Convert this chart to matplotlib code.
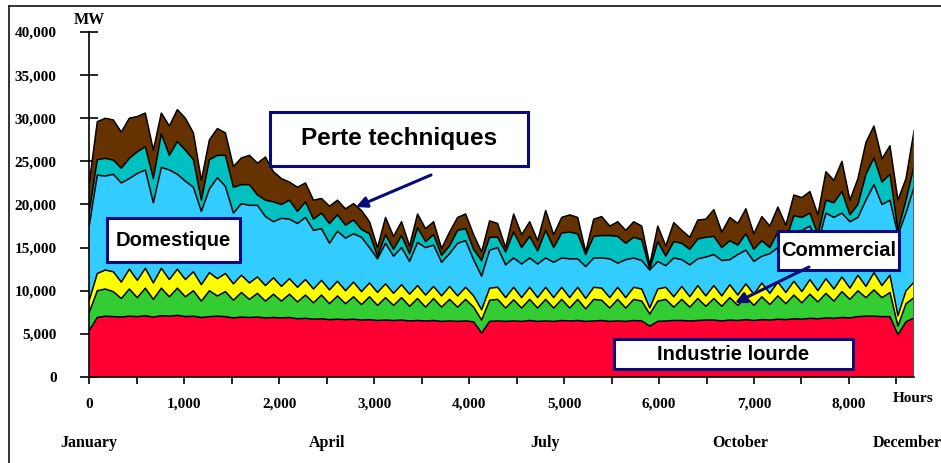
import numpy as np
import matplotlib
matplotlib.use("Agg")
import matplotlib.pyplot as plt
from matplotlib.patches import Rectangle, FancyArrowPatch
from matplotlib.lines import Line2D

# ---------------- data (cumulative stacked load, MW) ----------------
n_points = 104
hour_end = 8685
hours = np.linspace(0, hour_end, n_points)

cum_industrie_lourde = [
    5400, 6900, 7050, 7000, 6950, 7050, 7000, 7100, 6950, 7100,
    7050, 7150, 7000, 7050, 6900, 7000, 7050, 7000, 6850, 6950,
    6900, 6950, 6850, 6900, 6850, 6900, 6750, 6800, 6700, 6750,
    6650, 6700, 6650, 6700, 6600, 6650, 6550, 6600, 6550, 6600,
    6500, 6550, 6500, 6550, 6450, 6500, 6450, 6500, 6400, 5100,
    6450, 6500, 6450, 6500, 6450, 6550, 6450, 6500, 6450, 6550,
    6500, 6550, 6450, 6500, 6550, 6450, 6500, 6450, 6550, 6500,
    5900, 6450, 6500, 6550, 6550, 6500, 6550, 6600, 6600, 6500,
    6600, 6550, 6650, 6550, 6650, 6600, 6700, 6650, 6750, 6700,
    6800, 6750, 6850, 6800, 6900, 6850, 7000, 7050, 7050, 7000,
    7000, 4900, 6400, 6850]

cum_commercial = [
    7500, 10000, 10200, 9900, 9100, 10200, 9200, 10300, 9000, 10300,
    9300, 10300, 9300, 10000, 8800, 10000, 9400, 9900, 8900, 9800,
    9000, 9700, 8800, 9600, 8800, 9600, 8700, 9500, 8600, 9500,
    8500, 9400, 8500, 9300, 8400, 9300, 8300, 9200, 8300, 9200,
    8200, 9100, 8100, 9100, 8100, 9000, 8100, 9000, 8100, 6600,
    8900, 9000, 8000, 8950, 8000, 9000, 8000, 9000, 8000, 9000,
    8000, 9000, 7900, 9000, 8900, 8000, 9000, 8000, 9000, 8800,
    7300, 8800, 9000, 8100, 9000, 8100, 9100, 8200, 9100, 8200,
    9200, 8300, 9300, 8300, 9300, 8400, 9400, 8500, 9500, 8600,
    9600, 8700, 9700, 8800, 9900, 9000, 10000, 9200, 10100, 9200,
    9800, 5900, 8500, 9200]

cum_layer3 = [
    8900, 12000, 12400, 12200, 11000, 12500, 11200, 12600, 10900, 12600,
    11300, 12500, 11300, 12200, 10700, 12100, 11400, 12000, 10800, 11800,
    10900, 11600, 10600, 11500, 10500, 11400, 10400, 11300, 10200, 11200,
    10100, 11100, 10000, 11000, 9900, 10900, 9800, 10800, 9700, 10700,
    9600, 10600, 9500, 10500, 9400, 10500, 9400, 10400, 9400, 7800,
    10300, 10400, 9200, 10400, 9200, 10400, 9200, 10400, 9200, 10400,
    9200, 10400, 9100, 10400, 10300, 9200, 10400, 9200, 10400, 10200,
    8000, 10200, 10400, 9300, 10500, 9300, 10600, 9400, 10600, 9400,
    10700, 9500, 10800, 9600, 10900, 9700, 11000, 9800, 11100, 9900,
    11300, 10000, 11400, 10200, 11600, 10300, 11800, 10500, 12100, 10600,
    11800, 7100, 10000, 11000]

cum_domestique = [
    17600, 23400, 23300, 23500, 22500, 23000, 23600, 24000, 20200, 24300,
    24000, 23500, 22700, 22000, 19200, 21800, 23100, 22100, 19000, 20100,
    19900, 19900, 18600, 18000, 18400, 18300, 17800, 18500, 17000, 17200,
    15500, 16900, 16100, 16600, 16200, 15000, 13700, 15500, 14000, 15000,
    13400, 15600, 15000, 15300, 13300, 14300, 15500, 15800, 13600, 11700,
    14700, 15000, 13000, 13800, 13100, 13800, 13100, 13800, 13300, 13800,
    13700, 13700, 12800, 13800, 13800, 13700, 13200, 13600, 13800, 13500,
    12400, 13400, 12900, 13800, 13600, 13000, 13700, 13900, 14200, 13500,
    13600, 14200, 14700, 13400, 14000, 14300, 15000, 14500, 16800, 17000,
    17500, 15500, 19000, 18500, 19000, 18000, 18500, 20500, 22300, 20000,
    20500, 16500, 19000, 22000]

cum_layer5 = [
    19200, 25200, 25350, 25150, 24200, 25350, 26100, 26700, 23000, 28200,
    25700, 27300, 26300, 25200, 20500, 25200, 25700, 25700, 22000, 22300,
    22300, 21100, 20500, 20300, 20000, 20500, 19200, 20300, 18300, 19000,
    17800, 18800, 17600, 18200, 17100, 16600, 14000, 16500, 14800, 16400,
    14300, 17300, 15700, 16500, 14100, 15200, 17000, 17200, 14800, 13500,
    16200, 16200, 14500, 16800, 15000, 16300, 14600, 17000, 15000, 16700,
    16800, 16600, 14200, 16300, 16400, 16400, 16300, 15500, 16200, 15900,
    12500, 15700, 14000, 15700, 15500, 14800, 16000, 16200, 16300, 15000,
    15800, 15300, 16600, 14800, 15800, 15000, 16800, 15900, 18700, 18500,
    19000, 16500, 20500, 20200, 21500, 18800, 20000, 23500, 25400, 22600,
    23500, 17000, 20500, 24400]

cum_pertes = [
    22500, 29600, 30000, 29800, 28400, 30000, 30200, 30600, 26300, 30600,
    29100, 31000, 30000, 28300, 22800, 27500, 28800, 28300, 24400, 25400,
    25700, 24800, 25500, 23800, 23000, 22600, 22000, 22500, 20500, 20700,
    19800, 20500, 19500, 20100, 19300, 18000, 15000, 18500, 16300, 18000,
    15200, 18900, 17200, 18000, 14900, 16800, 18500, 18900, 16500, 14500,
    18100, 17800, 15000, 18900, 16500, 18000, 15800, 19300, 16500, 18500,
    18800, 18500, 14500, 18300, 18600, 17500, 18000, 17000, 18000, 17500,
    13000, 17500, 15200, 17900, 17000, 16200, 18200, 18300, 19400, 16800,
    18500, 17800, 19500, 16600, 18600, 17500, 19700, 17600, 21100, 20800,
    21500, 18800, 23800, 22800, 25000, 20500, 23000, 27200, 29100, 25300,
    26800, 20500, 23000, 28500]

layer_colors = ["#FF0033", "#33CC33", "#FFFF00", "#33CCFF", "#00C0C0", "#663300"]

y_ticks = list(range(0, 40001, 5000))
x_major = list(range(0, 8001, 1000))
x_minor = list(range(500, 8501, 1000))
month_labels = ["January", "April", "July", "October", "December"]
month_hours = [0, 2505, 4800, 6860, 8610]

# ---------------- figure ----------------
W, H = 941, 463
fig = plt.figure(figsize=(W / 100, H / 100), dpi=100)
fig.patch.set_facecolor("white")

def fx(px):
    return px / W

def fy(py):
    return 1 - py / H

ax = fig.add_axes([fx(89.3), fy(377), fx(914) - fx(89.3), fy(32) - fy(377)])
ax.set_xlim(0, hour_end)
ax.set_ylim(0, 40000)

bounds = [np.zeros(n_points)] + [np.array(c, dtype=float) for c in
          (cum_industrie_lourde, cum_commercial, cum_layer3,
           cum_domestique, cum_layer5, cum_pertes)]
for i in range(6):
    ax.fill_between(hours, bounds[i], bounds[i + 1], facecolor=layer_colors[i],
                    edgecolor="none", linewidth=0, zorder=2)
for i in range(1, 7):
    ax.plot(hours, bounds[i], color="black", lw=1.1, zorder=3)
ax.plot([hours[-1], hours[-1]], [0, bounds[-1][-1]], color="#555555", lw=1.2, zorder=3)

for s in ("top", "right"):
    ax.spines[s].set_visible(False)
ax.spines["left"].set_linewidth(1.2)
ax.spines["bottom"].set_linewidth(1.2)
ax.patch.set_alpha(0)

serif = ["Liberation Serif", "DejaVu Serif"]
sans = ["Liberation Sans", "DejaVu Sans"]

ax.set_yticks(y_ticks)
ax.set_yticklabels([f"{v:,}" for v in y_ticks], fontfamily=serif,
                   fontweight="bold", fontsize=11)
ax.tick_params(axis="y", direction="inout", length=13, width=1.2, pad=17)

ax.set_xticks(x_major)
ax.set_xticks(x_minor, minor=True)
ax.set_xticklabels([f"{v:,}" for v in x_major], fontfamily=serif,
                   fontweight="bold", fontsize=11)
ax.tick_params(axis="x", which="both", direction="out", length=5, width=1.2, pad=10)

# MW label and Hours label
fig.text(fx(89), fy(20), "MW", ha="center", va="center", fontfamily=serif,
         fontweight="bold", fontsize=11.5)
fig.text(fx(913.5), fy(399), "Hours", ha="center", va="center", fontfamily=serif,
         fontweight="bold", fontsize=11)

# month labels
for lab, h in zip(month_labels, month_hours):
    ax.text(h, -7700, lab, ha="center", va="center", fontfamily=serif,
            fontweight="bold", fontsize=11.5, clip_on=False)

# outer frame (left and top)
fig.add_artist(Line2D([fx(9), fx(9)], [fy(6), 0], color="#222222", lw=1.3))
fig.add_artist(Line2D([fx(9), 1], [fy(6), fy(6)], color="#222222", lw=1.3))

navy = "#0A0A78"

def label_box(x0, y0, x1, y1, text, size):
    rect = Rectangle((fx(x0), fy(y1)), fx(x1) - fx(x0), fy(y0) - fy(y1),
                     transform=fig.transFigure, facecolor="white",
                     edgecolor=navy, linewidth=2.2, zorder=5)
    fig.add_artist(rect)
    fig.text(fx((x0 + x1) / 2), fy((y0 + y1) / 2), text, ha="center",
             va="center", fontfamily=sans, fontweight="bold", fontsize=size,
             zorder=6)

def arrow(x0, y0, x1, y1):
    a = FancyArrowPatch((fx(x0), fy(y0)), (fx(x1), fy(y1)),
                        transform=fig.transFigure, arrowstyle="-|>",
                        mutation_scale=16, color=navy, linewidth=2.2,
                        shrinkA=0, shrinkB=0, zorder=6)
    fig.add_artist(a)

label_box(270, 112, 528, 166, "Perte techniques", 17.5)
label_box(107, 218, 240, 262, "Domestique", 14.5)
label_box(778, 231, 899, 270, "Commercial", 14.5)
label_box(614, 339, 853, 369, "Industrie lourde", 14.5)
arrow(431, 175, 356, 207)
arrow(809, 267, 735, 303)

fig.savefig("out.png", dpi=100)
